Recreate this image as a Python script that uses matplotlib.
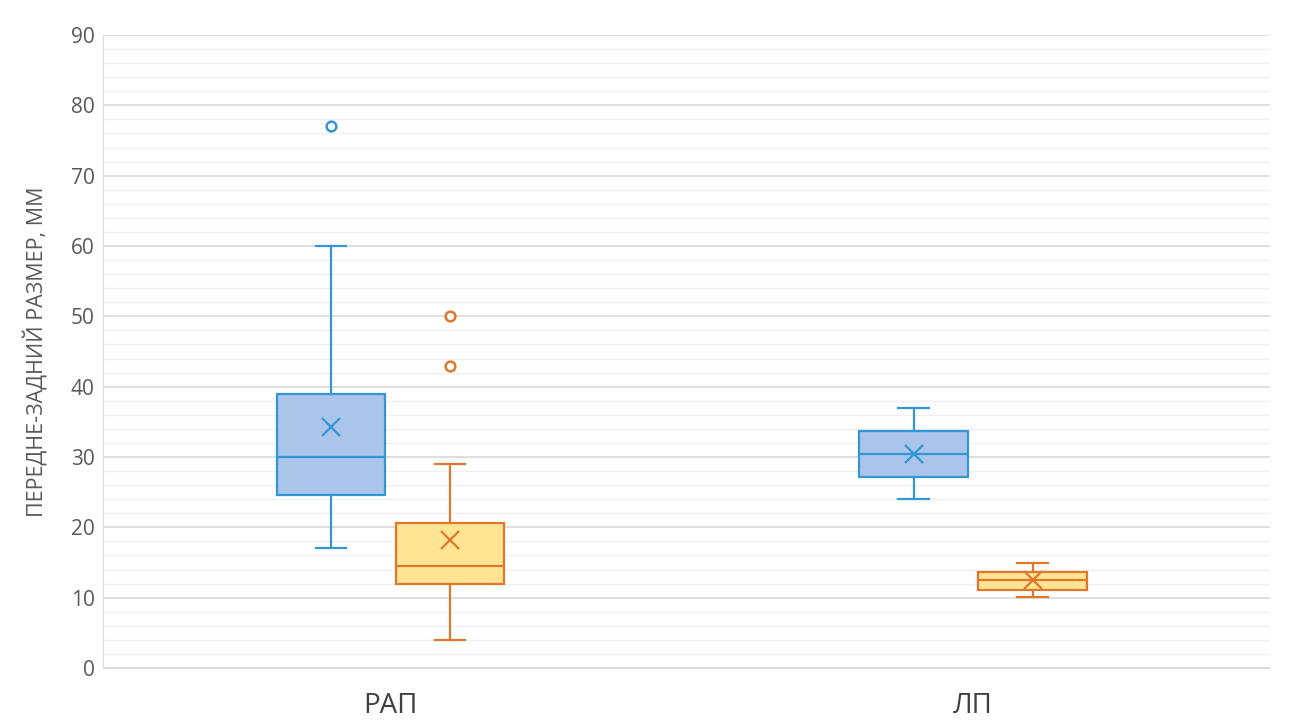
import matplotlib
matplotlib.use("Agg")
import matplotlib.pyplot as plt
from matplotlib.ticker import MultipleLocator

plt.rcParams['font.family'] = ['Open Sans', 'DejaVu Sans']

# данные
groups = ['РАП', 'ЛП']
series = ['blue', 'orange']

# [whislo, q1, med, q3, whishi, mean]
blue_stats = [[17, 24.6, 30, 39, 60, 34.3],
              [24, 27.2, 30.4, 33.7, 37, 30.4]]
orange_stats = [[4, 11.9, 14.5, 20.6, 29, 18.2],
                [10.1, 11.1, 12.5, 13.7, 15, 12.5]]
blue_fliers = [[77], []]
orange_fliers = [[50, 43], []]

edge_colors = {'blue': '#3497D5', 'orange': '#E0782C'}
fill_colors = {'blue': '#AAC4EA', 'orange': '#FFE493'}

fig = plt.figure(figsize=(13, 7.25), dpi=100)
ax = fig.add_axes([0.0792, 0.0786, 0.8978, 0.8731])

centers = [0.493, 1.491]
offsets = {'blue': -0.102, 'orange': 0.102}
box_w = 0.186

for name, stats_list, fliers_list in [('blue', blue_stats, blue_fliers),
                                      ('orange', orange_stats, orange_fliers)]:
    bstats = []
    for s, f in zip(stats_list, fliers_list):
        bstats.append(dict(whislo=s[0], q1=s[1], med=s[2], q3=s[3],
                           whishi=s[4], mean=s[5], fliers=f))
    pos = [c + offsets[name] for c in centers]
    ec = edge_colors[name]
    ax.bxp(bstats, positions=pos, widths=box_w, patch_artist=True,
           showmeans=True, capwidths=0.052,
           boxprops=dict(facecolor=fill_colors[name], edgecolor=ec, linewidth=1.6),
           medianprops=dict(color=ec, linewidth=1.6),
           whiskerprops=dict(color=ec, linewidth=1.6),
           capprops=dict(color=ec, linewidth=1.6),
           meanprops=dict(marker='x', markeredgecolor=ec, markersize=13,
                          markeredgewidth=1.6),
           flierprops=dict(marker='o', markerfacecolor='white',
                           markeredgecolor=ec, markersize=7, markeredgewidth=1.8),
           manage_ticks=False, zorder=3)

ax.set_xlim(0, 2)
ax.set_ylim(0, 90)
ax.yaxis.set_major_locator(MultipleLocator(10))
ax.yaxis.set_minor_locator(MultipleLocator(2))
ax.grid(True, which='major', axis='y', color='#D9D9D9', linewidth=1.2, zorder=0)
ax.grid(True, which='minor', axis='y', color='#EFEFEF', linewidth=1.0, zorder=0)
ax.set_axisbelow(True)

ax.set_xticks(centers)
ax.set_xticklabels(groups, fontsize=20, color='#404040')
ax.tick_params(axis='x', length=0, pad=17)
ax.tick_params(axis='y', which='both', length=0, pad=6, labelsize=15,
               labelcolor='#595959')

for side in ['top', 'right']:
    ax.spines[side].set_visible(False)
ax.spines['left'].set_color('#D9D9D9')
ax.spines['bottom'].set_color('#D9D9D9')

ax.set_ylabel('ПЕРЕДНЕ-ЗАДНИЙ РАЗМЕР, ММ', fontsize=15.5, color='#595959', labelpad=16)

fig.savefig('out.png', dpi=100)
